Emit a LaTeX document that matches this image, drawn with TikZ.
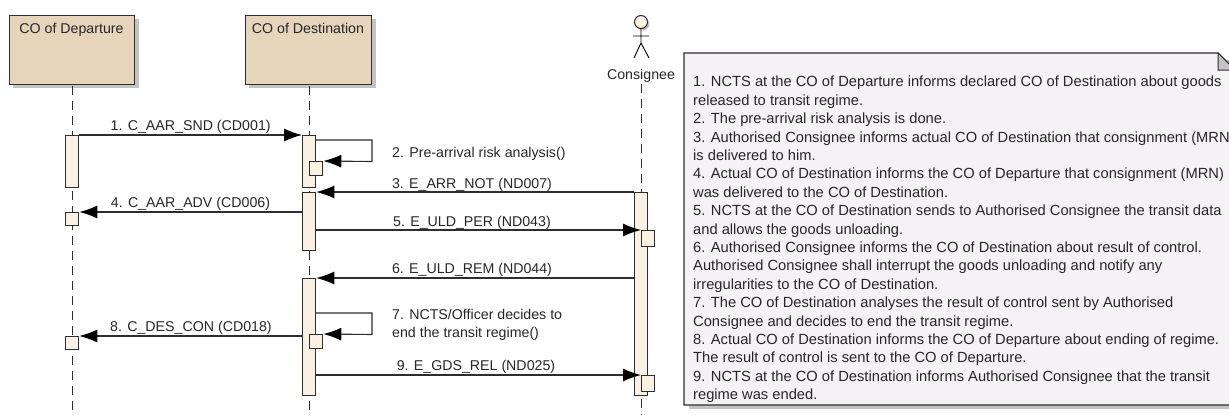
\documentclass[tikz,border=0pt]{standalone}
\usepackage{fontspec}
\setmainfont{Liberation Sans}
\usetikzlibrary{arrows.meta}
\definecolor{headfill}{RGB}{230,212,187}
\definecolor{actfill}{RGB}{250,241,229}
\definecolor{notefill}{RGB}{245,242,246}
\definecolor{edgecol}{RGB}{45,45,45}
\definecolor{shadowcol}{RGB}{195,195,195}
\tikzset{
  head/.style={draw=edgecol,line width=1.3pt,fill=headfill,inner sep=0pt,anchor=north west,minimum height=69pt},
  act/.style={draw=edgecol,line width=1.3pt,fill=actfill,inner sep=0pt,anchor=north west,minimum width=13pt},
  life/.style={draw=edgecol,line width=1pt,dash pattern=on 9pt off 6pt},
  msg/.style={draw=edgecol,line width=1.1pt,-{Latex[length=18pt,width=13pt,black]}},
  lbl/.style={inner sep=0pt,anchor=base,font=\fontsize{14.2}{16}\selectfont,text=black!85},
  lblleft/.style={lbl,anchor=base west},
}
\begin{document}
\begin{tikzpicture}[x=1pt,y=-1pt]
\clip (0,0) rectangle (1229,415);
% shadows
\fill[shadowcol] (13,19) rectangle (139,88);
\fill[shadowcol] (249,19) rectangle (376,88);
\fill[shadowcol] (689,60) rectangle (1229,409);
\fill[shadowcol] (643,24) circle (6.5);
% heads
\node[head,minimum width=125pt] (dep) at (9,15) {};
\node[head,minimum width=126pt] (des) at (245,15) {};
\node[lbl] (depname) at (71.5,34) {CO of Departure};
\node[lbl] (desname) at (308,34) {CO of Destination};
\node[lbl] (conname) at (641,79) {Consignee};
% lifelines
\coordinate (depT) at (72,86);
\coordinate (depB) at (72,415);
\coordinate (desT) at (309,86);
\coordinate (desB) at (309,415);
\coordinate (conT) at (641,84);
\coordinate (conB) at (641,415);
\draw[life] (depT)--(depB);
\draw[life] (desT)--(desB);
\draw[life] (conT)--(conB);
% actor
\draw[draw=edgecol,fill=actfill,line width=1pt] (641,22) circle (6.5);
\draw[black,line width=.9pt] (641,28.5)--(641,43) (633,36)--(649,36) (634,58)--(641,43)--(649,58);
% activations
\node[act,minimum height=52pt] (a1) at (65,135) {};
\node[act,minimum height=52pt] (b1) at (302,135) {};
\node[act,minimum height=58pt] (b2) at (302,192) {};
\node[act,minimum height=117pt] (b3) at (302,278) {};
\node[act,minimum height=203pt] (c1) at (634,192) {};
\node[act,minimum height=14pt] (bs1) at (309,161) {};
\node[act,minimum height=13pt] (a2) at (65,212) {};
\node[act,minimum height=16pt] (cs1) at (641,230) {};
\node[act,minimum height=13pt] (a3) at (65,336) {};
\node[act,minimum height=14pt] (bs2) at (309,334) {};
\node[act,minimum height=16pt] (cs2) at (641,375) {};
% self messages
\coordinate (s1a) at (315,140);
\coordinate (s1b) at (372,140);
\coordinate (s1c) at (372,161.5);
\coordinate (s2a) at (315,313);
\coordinate (s2b) at (372,313);
\coordinate (s2c) at (372,334.5);
% messages
\draw[msg] (a1.north east)--(b1.north west);
\draw[msg] (s1a)--(s1b)--(s1c)--(bs1.north east);
\draw[msg] (c1.north west)--(b2.north east);
\draw[msg] (b2.west |- a2.north)--(a2.north east);
\draw[msg] (b2.east |- cs1.north)--(cs1.north west);
\draw[msg] (c1.west |- b3.north)--(b3.north east);
\draw[msg] (s2a)--(s2b)--(s2c)--(bs2.north east);
\draw[msg] (b3.west |- a3.north)--(a3.north east);
\draw[msg] (b3.east |- cs2.north)--(cs2.north west);
% labels
\node[lbl] (m1) at (190.7,130) {1. C\_AAR\_SND (CD001)};
\node[lblleft] (m2) at (392,157.5) {2. Pre-arrival risk analysis()};
\node[lbl] (m3) at (472,188) {3. E\_ARR\_NOT (ND007)};
\node[lbl] (m4) at (190.5,207) {4. C\_AAR\_ADV (CD006)};
\node[lbl] (m5) at (472,226.5) {5. E\_ULD\_PER (ND043)};
\node[lbl] (m6) at (472,273.5) {6. E\_ULD\_REM (ND044)};
\node[lblleft] (m7a) at (392,319) {7. NCTS/Officer decides to};
\node[lblleft] (m7b) at (392,337.5) {end the transit regime()};
\node[lbl] (m8) at (191,331) {8. C\_DES\_CON (CD018)};
\node[lbl] (m9) at (476,370.5) {9. E\_GDS\_REL (ND025)};
% note
\draw[draw=edgecol,line width=1.3pt,fill=notefill] (684,53)--(1218,53)--(1240,75)--(1240,405)--(684,405)--cycle;
\draw[draw=edgecol,line width=1pt,fill=shadowcol] (1218,53)--(1218,70)--(1235,70)--cycle;
\node[anchor=north west,inner sep=0pt,align=left,text=black!85,font=\fontsize{14.7}{18.4}\selectfont] (notetext) at (693,76) {%
1. NCTS at the CO of Departure informs declared CO of Destination about goods\\
released to transit regime.\\
2. The pre-arrival risk analysis is done.\\
3. Authorised Consignee informs actual CO of Destination that consignment (MRN)\\
is delivered to him.\\
4. Actual CO of Destination informs the CO of Departure that consignment (MRN)\\
was delivered to the CO of Destination.\\
5. NCTS at the CO of Destination sends to Authorised Consignee the transit data\\
and allows the goods unloading.\\
6. Authorised Consignee informs the CO of Destination about result of control.\\
Authorised Consignee shall interrupt the goods unloading and notify any\\
irregularities to the CO of Destination.\\
7. The CO of Destination analyses the result of control sent by Authorised\\
Consignee and decides to end the transit regime.\\
8. Actual CO of Destination informs the CO of Departure about ending of regime.\\
The result of control is sent to the CO of Departure.\\
9. NCTS at the CO of Destination informs Authorised Consignee that the transit\\
regime was ended.};
\end{tikzpicture}
\end{document}
